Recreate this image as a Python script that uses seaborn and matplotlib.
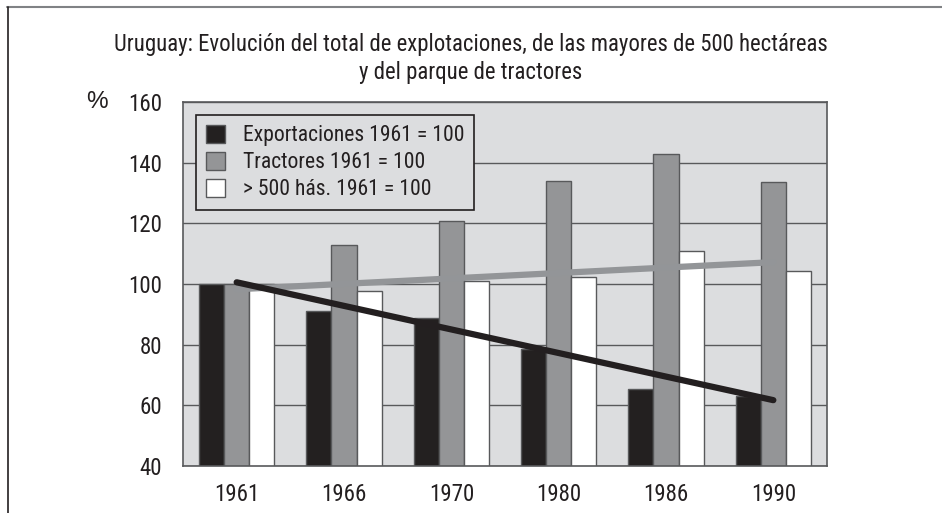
import numpy as np
import pandas as pd
import matplotlib
matplotlib.use('Agg')
import matplotlib.pyplot as plt
from matplotlib import font_manager
from matplotlib.lines import Line2D
import seaborn as sns

# values (index, 1961 = 100)
years         = ['1961', '1966', '1970', '1980', '1986', '1990']
exportaciones = [100, 91.0, 88.8, 78.6, 65.4, 63.0]
tractores     = [100, 112.7, 120.7, 133.8, 143.0, 133.6]
mayores_500   = [100, 97.7, 101.1, 102.4, 110.8, 104.4]
series_labels = ['Exportaciones 1961 = 100', 'Tractores 1961 = 100',
                 '> 500 hás. 1961 = 100']
y_ticks       = [40, 60, 80, 100, 120, 140, 160]

BLACK = '#231f20'
GRAY  = '#939598'
WHITE = '#ffffff'
BG    = '#dcdddf'
EDGE  = '#58595b'

df = pd.DataFrame({
    'year':  years * 3,
    'valor': exportaciones + tractores + mayores_500,
    'serie': [lab for lab in series_labels for _ in years],
})

# the original uses a condensed face; take one if the box has it
installed = {f.name for f in font_manager.fontManager.ttflist}
narrow = [n for n in ['Liberation Sans Narrow', 'Roboto Condensed',
                      'Open Sans Condensed', 'DejaVu Sans Condensed']
          if n in installed]
if narrow:
    family = [narrow[0], 'Liberation Sans', 'DejaVu Sans']
    fs_title, fs_tick, fs_leg = 16.4, 16.5, 15.6
else:
    family = ['Liberation Sans', 'DejaVu Sans']
    fs_title, fs_tick, fs_leg = 14.4, 15, 14.3

sns.set_style('white')
plt.rcParams['font.family'] = family
plt.rcParams['text.color'] = BLACK

fig = plt.figure(figsize=(9.42, 5.13), dpi=100)
ax = fig.add_axes([183 / 942, 47 / 513, 644 / 942, 364 / 513])
ax.set_facecolor(BG)
ax.set_axisbelow(True)

sns.barplot(data=df, x='year', y='valor', hue='serie',
            palette=[BLACK, GRAY, WHITE], width=0.7, gap=0,
            edgecolor=EDGE, linewidth=1, ax=ax, zorder=2)

# linear trend lines (Excel style): exports in black, >500 ha in gray
xpos = np.arange(len(years))
sns.regplot(x=xpos, y=np.array(exportaciones), scatter=False, ci=None,
            truncate=True, color=BLACK, line_kws={'lw': 4.5, 'zorder': 4}, ax=ax)
sns.regplot(x=xpos, y=np.array(mayores_500), scatter=False, ci=None,
            truncate=True, color=GRAY, line_kws={'lw': 4.5, 'zorder': 3}, ax=ax)

ax.set_xlim(-0.5, 5.5)
ax.set_ylim(40, 160)
ax.set_yticks(y_ticks)
ax.yaxis.grid(True, color=EDGE, lw=1)
ax.tick_params(axis='both', length=0, labelsize=fs_tick, colors=BLACK)
ax.tick_params(axis='y', pad=15)
ax.tick_params(axis='x', pad=12)
ax.set_xlabel('')
ax.set_ylabel('')
for sp in ax.spines.values():
    sp.set_color(EDGE)
    sp.set_linewidth(1.2)

handles, labels = ax.get_legend_handles_labels()
leg = ax.legend(handles[:3], series_labels, loc='upper left',
                bbox_to_anchor=(13 / 644, 351 / 364), borderaxespad=0,
                frameon=True, fancybox=False, facecolor=BG, edgecolor=BLACK,
                framealpha=1, fontsize=fs_leg, handlelength=0.9, handleheight=0.9,
                handletextpad=0.8, labelspacing=0.25, borderpad=0.45)
leg.get_frame().set_linewidth(1.2)

fig.text(471 / 942, 1 - 45 / 513,
         'Uruguay: Evolución del total de explotaciones, de las mayores de 500 hectáreas',
         ha='center', va='center', fontsize=fs_title)
fig.text(471 / 942, 1 - 72 / 513, 'y del parque de tractores',
         ha='center', va='center', fontsize=fs_title)
fig.text(97 / 942, 1 - 102 / 513, '%', ha='center', va='center',
         fontsize=fs_tick + 1, family='Liberation Sans')

# outer frame (top and left edges of the box)
fig.add_artist(Line2D([7 / 942, 1], [1 - 6.5 / 513, 1 - 6.5 / 513],
                      transform=fig.transFigure, color='#808285', lw=1.5))
fig.add_artist(Line2D([7.5 / 942, 7.5 / 942], [0, 1 - 6.5 / 513],
                      transform=fig.transFigure, color=BLACK, lw=1.2))

fig.savefig('out.png', dpi=100)
